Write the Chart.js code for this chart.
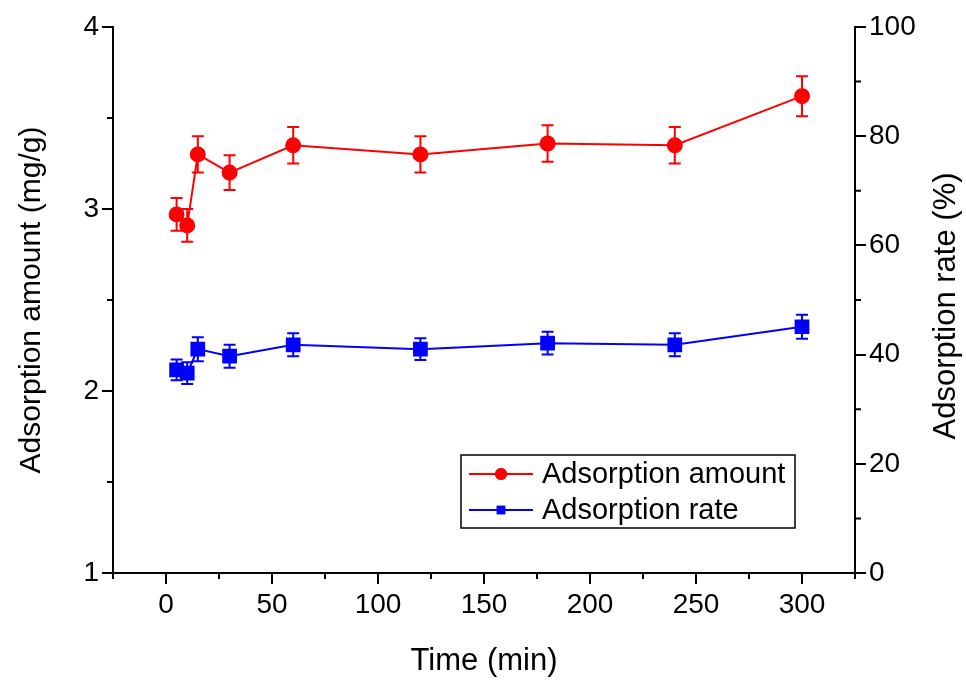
<!DOCTYPE html>
<html>
<head>
<meta charset="utf-8">
<script src="https://cdn.jsdelivr.net/npm/chart.js@4.4.0/dist/chart.umd.min.js"></script>
<style>
html, body { margin: 0; padding: 0; background: #fff; }
#wrap { width: 966px; height: 681px; }
</style>
</head>
<body>
<div id="wrap"><canvas id="chartAdsorption"></canvas></div>
<script>
// values
const timeMin = [5, 10, 15, 30, 60, 120, 180, 240, 300];
const amountMgG = [2.97, 2.91, 3.30, 3.20, 3.35, 3.30, 3.36, 3.35, 3.62];
const amountErr = [0.09, 0.09, 0.10, 0.095, 0.10, 0.10, 0.10, 0.10, 0.11];
const ratePct = [37.2, 36.6, 41.0, 39.7, 41.8, 41.0, 42.1, 41.8, 45.1];
const rateErr = [1.9, 2.0, 2.2, 2.1, 2.1, 2.0, 2.1, 2.1, 2.2];

const xTicks = [0, 50, 100, 150, 200, 250, 300];
const xMinorTicks = [-25, 25, 75, 125, 175, 225, 275, 325];
const leftTicks = [1, 2, 3, 4];
const leftMinorTicks = [1.5, 2.5, 3.5];
const rightTicks = [0, 20, 40, 60, 80, 100];
const rightMinorTicks = [10, 30, 50, 70, 90];

const FONT = "'Liberation Sans', Arial, sans-serif";
Chart.defaults.font.family = FONT;
Chart.defaults.color = "#000";

let ctx = document.getElementById("chartAdsorption").getContext("2d");

function toPoints(values) {
    return timeMin.map((t, i) => ({ x: t, y: values[i] }));
}

const errorBars = {
    id: "errorBars",
    afterDatasetsDraw(chart) {
        const c = chart.ctx;
        const xs = chart.scales.x;
        chart.data.datasets.forEach((ds) => {
            const ys = chart.scales[ds.yAxisID];
            c.save();
            c.strokeStyle = ds.borderColor;
            c.lineWidth = 2;
            ds.data.forEach((p, i) => {
                const px = xs.getPixelForValue(p.x);
                const top = ys.getPixelForValue(p.y + ds.errors[i]);
                const bot = ys.getPixelForValue(p.y - ds.errors[i]);
                c.beginPath();
                c.moveTo(px, top);
                c.lineTo(px, bot);
                c.moveTo(px - 6, top);
                c.lineTo(px + 6, top);
                c.moveTo(px - 6, bot);
                c.lineTo(px + 6, bot);
                c.stroke();
            });
            c.restore();
        });
    },
};

const minorTicks = {
    id: "minorTicks",
    afterDraw(chart) {
        const c = chart.ctx;
        const a = chart.chartArea;
        const len = 6;
        c.save();
        c.strokeStyle = "#000";
        c.lineWidth = 2;
        c.beginPath();
        xMinorTicks.forEach((v) => {
            const px = chart.scales.x.getPixelForValue(v);
            c.moveTo(px, a.bottom);
            c.lineTo(px, a.bottom + len);
        });
        leftMinorTicks.forEach((v) => {
            const py = chart.scales.y.getPixelForValue(v);
            c.moveTo(a.left, py);
            c.lineTo(a.left - len, py);
        });
        rightMinorTicks.forEach((v) => {
            const py = chart.scales.y1.getPixelForValue(v);
            c.moveTo(a.right, py);
            c.lineTo(a.right + len, py);
        });
        c.stroke();

        // right axis title, reads bottom to top like the left one
        c.font = "31px " + FONT;
        c.fillStyle = "#000";
        c.textAlign = "center";
        c.textBaseline = "middle";
        c.translate(946, (a.top + a.bottom) / 2 + 6);
        c.rotate(-Math.PI / 2);
        c.fillText("Adsorption rate (%)", 0, 0);
        c.restore();
    },
};

const boxLegend = {
    id: "boxLegend",
    afterDraw(chart) {
        const c = chart.ctx;
        const box = { x: 461, y: 455, w: 334, h: 73 };
        c.save();
        c.fillStyle = "#fff";
        c.fillRect(box.x, box.y, box.w, box.h);
        c.strokeStyle = "#000";
        c.lineWidth = 1.5;
        c.strokeRect(box.x, box.y, box.w, box.h);
        c.font = "29px " + FONT;
        c.textBaseline = "middle";
        chart.data.datasets.forEach((ds, i) => {
            const yRow = box.y + 19 + i * 36;
            c.strokeStyle = ds.borderColor;
            c.lineWidth = 2;
            c.beginPath();
            c.moveTo(box.x + 8, yRow);
            c.lineTo(box.x + 72, yRow);
            c.stroke();
            c.fillStyle = ds.borderColor;
            Chart.helpers.drawPoint(c, { pointStyle: ds.pointStyle, radius: 6, borderWidth: 0 }, box.x + 40, yRow);
            c.fill();
            c.fillStyle = "#000";
            c.fillText(ds.label, box.x + 81, yRow + 1);
        });
        c.restore();
    },
};

const axisGrid = {
    display: true,
    drawOnChartArea: false,
    drawTicks: true,
    tickLength: 11,
    color: "#000",
    lineWidth: 2,
};

const myChart = new Chart(ctx, {
    type: "line",
    data: {
        datasets: [
            {
                label: "Adsorption amount",
                data: toPoints(amountMgG),
                errors: amountErr,
                yAxisID: "y",
                borderColor: "#ff0000",
                backgroundColor: "#ff0000",
                borderWidth: 2,
                pointStyle: "circle",
                pointRadius: 7,
                pointHoverRadius: 7,
                tension: 0,
            },
            {
                label: "Adsorption rate",
                data: toPoints(ratePct),
                errors: rateErr,
                yAxisID: "y1",
                borderColor: "#0000ff",
                backgroundColor: "#0000ff",
                borderWidth: 2,
                pointStyle: "rect",
                pointRadius: 9,
                pointHoverRadius: 9,
                tension: 0,
            },
        ],
    },
    options: {
        responsive: true,
        maintainAspectRatio: false,
        animation: false,
        layout: { padding: { top: 27, left: 0, right: 0, bottom: 0 } },
        plugins: {
            legend: { display: false },
            tooltip: { enabled: false },
        },
        scales: {
            x: {
                type: "linear",
                min: -25,
                max: 325,
                afterBuildTicks: (scale) => {
                    scale.ticks = xTicks.map((v) => ({ value: v }));
                },
                afterFit: (scale) => {
                    scale.height = 108;
                },
                grid: axisGrid,
                border: { display: true, color: "#000", width: 2 },
                ticks: { font: { size: 28 }, padding: 4, maxRotation: 0 },
                title: {
                    display: true,
                    text: "Time (min)",
                    font: { size: 31 },
                    padding: { top: 0, bottom: 1 },
                },
            },
            y: {
                type: "linear",
                position: "left",
                min: 1,
                max: 4,
                afterBuildTicks: (scale) => {
                    scale.ticks = leftTicks.map((v) => ({ value: v }));
                },
                afterFit: (scale) => {
                    scale.width = 113;
                },
                grid: axisGrid,
                border: { display: true, color: "#000", width: 2 },
                ticks: { font: { size: 28 }, padding: 3 },
                title: {
                    display: true,
                    text: "Adsorption amount (mg/g)",
                    font: { size: 30 },
                    padding: { top: 14, bottom: 0 },
                },
            },
            y1: {
                type: "linear",
                position: "right",
                min: 0,
                max: 100,
                afterBuildTicks: (scale) => {
                    scale.ticks = rightTicks.map((v) => ({ value: v }));
                },
                afterFit: (scale) => {
                    scale.width = 111;
                },
                grid: axisGrid,
                border: { display: true, color: "#000", width: 2 },
                ticks: { font: { size: 28 }, padding: 3 },
                title: { display: false },
            },
        },
    },
    plugins: [errorBars, minorTicks, boxLegend],
});
</script>
</body>
</html>
